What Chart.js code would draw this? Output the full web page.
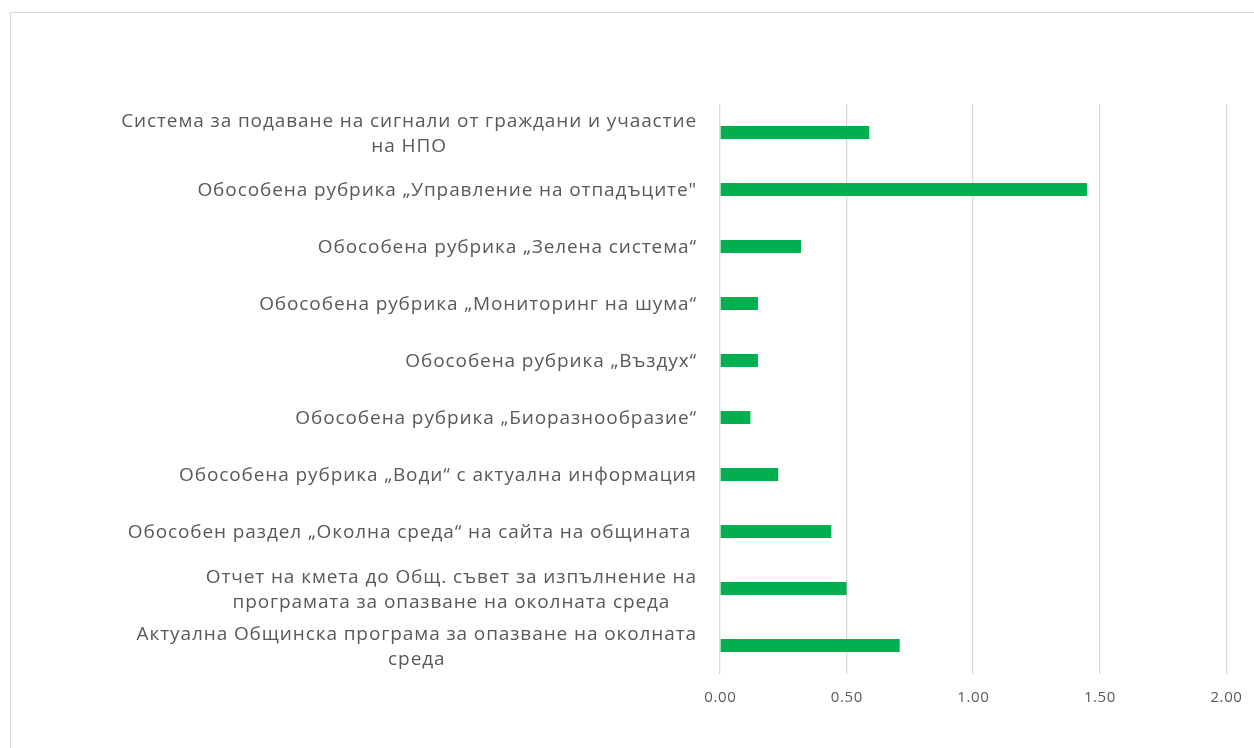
<!DOCTYPE html>
<html>
<head>
<meta charset="utf-8">
<script src="https://cdn.jsdelivr.net/npm/chart.js@4.4.1/dist/chart.umd.min.js"></script>
<style>
html,body{margin:0;padding:0;background:#fff;}
#wrap{position:relative;width:1254px;height:748px;}
</style>
</head>
<body>
<div id="wrap"><canvas id="c" width="1254" height="748"></canvas></div>
<script>
const categories = [
  ["Система за подаване на сигнали от граждани и учаастие", "на НПО"],
  "Обособена рубрика „Управление на отпадъците\"",
  "Обособена рубрика „Зелена система“",
  "Обособена рубрика „Мониторинг на шума“",
  "Обособена рубрика „Въздух“",
  "Обособена рубрика „Биоразнообразие“",
  "Обособена рубрика „Води“ с актуална информация",
  "Обособен раздел „Околна среда“ на сайта на общината ",
  ["Отчет на кмета до Общ. съвет за изпълнение на", "програмата за опазване на околната среда"],
  ["Актуална Общинска програма за опазване на околната", "среда"]
];
const values = [0.59, 1.45, 0.32, 0.15, 0.15, 0.12, 0.23, 0.44, 0.50, 0.71];
const xTicks = [0, 0.5, 1, 1.5, 2];

const FONT = '"Open Sans", "DejaVu Sans", sans-serif';
const LABEL_SIZE = 19;
const LINE_H = 25;
const TICK_SIZE = 15;

const framePlugin = {
  id: 'frame',
  beforeDraw(chart) {
    const ctx = chart.ctx;
    ctx.save();
    ctx.fillStyle = '#ffffff';
    ctx.fillRect(0, 0, chart.width, chart.height);
    ctx.strokeStyle = '#d9d9d9';
    ctx.lineWidth = 1;
    ctx.strokeRect(10.5, 12.5, chart.width + 20, chart.height + 20);
    ctx.restore();
  }
};

const labelPlugin = {
  id: 'labels',
  afterDraw(chart) {
    const ys = chart.scales.y;
    const xs = chart.scales.x;
    const ctx = chart.ctx;
    ctx.save();
    ctx.fillStyle = '#595959';
    ctx.textAlign = 'center';
    ctx.textBaseline = 'alphabetic';
    // category labels (lines centred on each other, block right-aligned to the axis)
    ctx.font = LABEL_SIZE + 'px ' + FONT;
    if ('letterSpacing' in ctx) ctx.letterSpacing = '0.9px';
    const right = chart.chartArea.left - 23;
    const capHalf = LABEL_SIZE * 0.714 / 2;
    categories.forEach((lab, i) => {
      const lines = Array.isArray(lab) ? lab : [lab];
      const w = Math.max(...lines.map(l => ctx.measureText(l).width));
      const cy = ys.getPixelForValue(i);
      lines.forEach((l, j) => {
        ctx.fillText(l, right - w / 2, cy + capHalf + (j - (lines.length - 1) / 2) * LINE_H);
      });
    });
    // value-axis tick labels
    ctx.font = TICK_SIZE + 'px ' + FONT;
    if ('letterSpacing' in ctx) ctx.letterSpacing = '0.6px';
    xTicks.forEach(v => {
      ctx.fillText(v.toFixed(2), xs.getPixelForValue(v) + 0.3, chart.chartArea.bottom + 28);
    });
    ctx.restore();
  }
};

new Chart(document.getElementById('c'), {
  type: 'bar',
  data: {
    labels: categories,
    datasets: [{
      data: values,
      backgroundColor: '#00B050',
      borderWidth: 0,
      barPercentage: 0.23,
      categoryPercentage: 1.0
    }]
  },
  options: {
    indexAxis: 'y',
    responsive: false,
    animation: false,
    devicePixelRatio: 1,
    layout: { padding: { top: 104, right: 26, bottom: 0, left: 0 } },
    plugins: { legend: { display: false }, tooltip: { enabled: false } },
    scales: {
      x: {
        min: 0, max: 2,
        afterBuildTicks(scale) { scale.ticks = xTicks.map(v => ({ value: v })); },
        afterFit(scale) { scale.height = 74; },
        grid: { color: '#d9d9d9', lineWidth: 1.3, drawTicks: false },
        border: { display: false },
        ticks: {
          padding: 13,
          color: 'rgba(0,0,0,0)',
          font: { family: FONT, size: TICK_SIZE },
          callback: v => Number(v).toFixed(2)
        }
      },
      y: {
        afterFit(scale) { scale.width = 720; },
        grid: { display: false, drawTicks: false },
        border: { display: false },
        ticks: { color: 'rgba(0,0,0,0)', font: { family: FONT, size: 12 } }
      }
    }
  },
  plugins: [framePlugin, labelPlugin]
});
</script>
</body>
</html>
